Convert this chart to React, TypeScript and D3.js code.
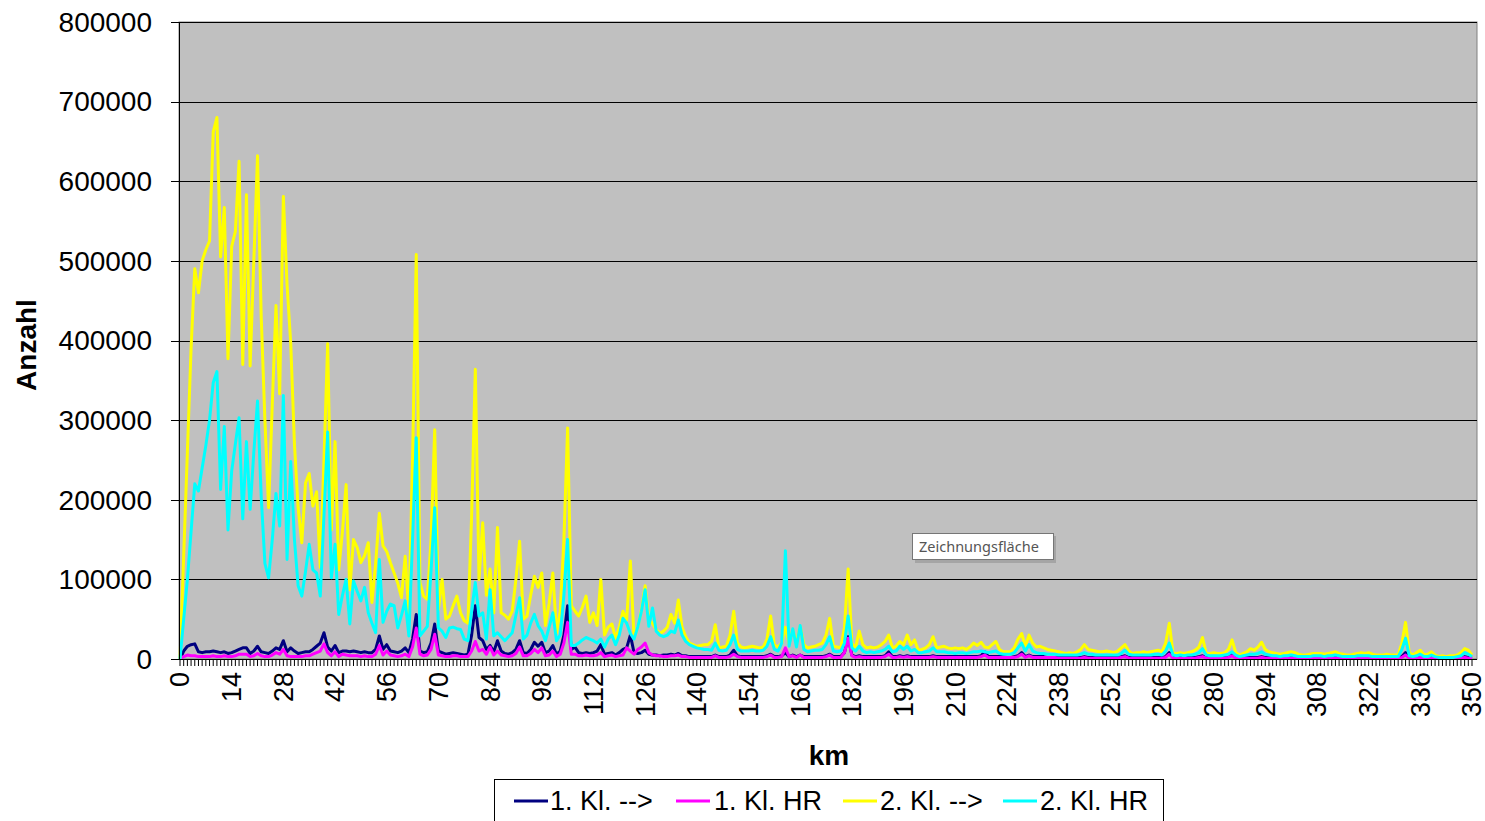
import React from 'react';
import * as d3 from 'd3';

// km categories 0..350 (one point per km)
const km: number[] = d3.range(0, 351);
const kmTicks = [0, 14, 28, 42, 56, 70, 84, 98, 112, 126, 140, 154, 168, 182, 196, 210, 224, 238, 252, 266, 280, 294, 308, 322, 336, 350];
const yTicks = [0, 100000, 200000, 300000, 400000, 500000, 600000, 700000, 800000];

// series values, in thousands
const kl1Hin = [
  0, 10, 16, 18, 19, 9, 8, 9, 9, 10,
  9, 8, 9, 7, 8, 10, 12, 14, 14, 7,
  10, 16, 9, 8, 7, 10, 14, 12, 23, 9,
  14, 10, 7, 8, 9, 9, 12, 16, 20, 33,
  15, 10, 17, 8, 10, 10, 9, 10, 9, 8,
  9, 8, 8, 12, 29, 12, 18, 10, 9, 8,
  10, 14, 8, 25, 56, 10, 8, 9, 20, 44,
  10, 8, 6, 7, 8, 7, 6, 5, 6, 30,
  67, 27, 23, 12, 17, 9, 23, 10, 7, 6,
  8, 12, 23, 8, 7, 12, 21, 16, 21, 8,
  10, 17, 6, 10, 30, 67, 12, 15, 8, 7,
  8, 7, 8, 10, 18, 6, 7, 8, 5, 8,
  12, 14, 30, 8, 7, 8, 11, 6, 5, 5,
  4, 5, 5, 6, 5, 7, 4, 4, 3, 3,
  3, 3, 3, 3, 3, 5, 3, 3, 3, 5,
  11, 4, 3, 3, 3, 3, 3, 3, 3, 4,
  6, 3, 3, 4, 8, 3, 5, 3, 5, 3,
  3, 3, 3, 3, 3, 4, 6, 3, 3, 3,
  8, 28, 5, 3, 4, 3, 3, 3, 3, 3,
  3, 4, 9, 3, 3, 4, 3, 4, 3, 3,
  3, 3, 3, 3, 4, 3, 3, 3, 3, 3,
  3, 3, 3, 3, 3, 3, 3, 4, 9, 3,
  3, 3, 3, 3, 2, 2, 3, 4, 8, 3,
  5, 3, 3, 3, 3, 2, 2, 2, 2, 2,
  2, 2, 2, 2, 2, 3, 2, 2, 2, 2,
  2, 2, 2, 2, 2, 3, 4, 2, 2, 2,
  2, 2, 2, 2, 2, 2, 2, 3, 8, 2,
  2, 2, 2, 2, 2, 2, 3, 4, 2, 2,
  2, 2, 2, 2, 3, 6, 2, 2, 2, 2,
  2, 2, 2, 3, 2, 2, 2, 2, 2, 2,
  2, 2, 2, 2, 2, 2, 2, 2, 2, 2,
  2, 2, 2, 2, 2, 2, 2, 2, 2, 2,
  2, 2, 2, 2, 2, 2, 2, 2, 2, 2,
  2, 3, 8, 2, 2, 2, 3, 2, 2, 2,
  2, 1, 1, 1, 1, 1, 2, 2, 3, 2,
  1,
];

const kl1HR = [
  0, 3, 5, 4, 4, 3, 3, 3, 3, 4,
  3, 3, 4, 3, 3, 4, 6, 6, 6, 3,
  4, 7, 4, 3, 3, 5, 8, 6, 12, 4,
  3, 3, 3, 3, 4, 4, 6, 8, 10, 19,
  8, 4, 9, 3, 6, 5, 4, 4, 4, 3,
  4, 3, 3, 6, 17, 5, 10, 5, 4, 3,
  4, 6, 3, 15, 39, 6, 4, 5, 12, 31,
  5, 4, 3, 3, 4, 4, 3, 3, 3, 10,
  22, 10, 12, 6, 15, 5, 10, 5, 4, 3,
  4, 7, 15, 4, 4, 7, 12, 8, 14, 4,
  5, 10, 3, 6, 20, 46, 6, 6, 4, 4,
  5, 4, 4, 5, 8, 3, 4, 5, 3, 4,
  5, 14, 10, 6, 12, 15, 20, 8, 5, 4,
  4, 3, 3, 4, 4, 5, 3, 3, 2, 2,
  2, 2, 2, 2, 2, 4, 2, 2, 2, 3,
  6, 3, 2, 2, 2, 2, 2, 2, 2, 3,
  5, 2, 2, 3, 14, 3, 4, 2, 5, 2,
  2, 2, 2, 2, 2, 3, 5, 2, 2, 2,
  8, 26, 4, 2, 3, 2, 2, 2, 2, 2,
  2, 3, 6, 2, 2, 3, 2, 3, 2, 2,
  2, 2, 2, 2, 3, 2, 2, 2, 2, 2,
  2, 2, 2, 2, 2, 2, 2, 3, 5, 2,
  2, 2, 2, 2, 2, 2, 2, 3, 6, 2,
  4, 2, 2, 2, 2, 2, 2, 2, 1, 1,
  1, 1, 1, 1, 1, 2, 1, 1, 1, 1,
  1, 1, 1, 1, 1, 2, 3, 1, 1, 1,
  1, 1, 1, 1, 1, 1, 1, 2, 6, 1,
  1, 1, 1, 1, 1, 1, 2, 3, 1, 1,
  1, 1, 1, 1, 2, 4, 1, 1, 1, 1,
  1, 1, 1, 2, 1, 1, 1, 1, 1, 1,
  1, 1, 1, 1, 1, 1, 1, 1, 1, 1,
  1, 1, 1, 1, 1, 1, 1, 1, 1, 1,
  1, 1, 1, 1, 1, 1, 1, 1, 1, 1,
  1, 2, 5, 1, 1, 1, 2, 1, 1, 1,
  1, 1, 1, 1, 1, 1, 1, 1, 2, 1,
  1,
];

const kl2Hin = [
  0, 130, 260, 390, 490, 460, 500, 514, 525, 662,
  680, 505, 567, 377, 518, 537, 625, 370, 583, 368,
  500, 632, 430, 300, 190, 320, 444, 333, 581, 470,
  396, 270, 190, 146, 221, 233, 192, 210, 115, 250,
  396, 162, 273, 112, 160, 219, 87, 150, 140, 121,
  130, 146, 71, 120, 183, 142, 135, 121, 108, 95,
  77, 129, 58, 250, 508, 96, 79, 75, 150, 288,
  62, 100, 50, 54, 67, 79, 58, 48, 45, 180,
  364, 100, 171, 80, 113, 58, 165, 58, 55, 50,
  60, 100, 148, 50, 54, 80, 104, 90, 108, 42,
  70, 108, 33, 60, 150, 290, 67, 60, 54, 65,
  79, 46, 58, 42, 100, 30, 40, 44, 26, 40,
  60, 49, 123, 26, 40, 62, 92, 49, 45, 37,
  32, 35, 40, 56, 45, 74, 40, 28, 20, 18,
  16, 17, 18, 18, 22, 43, 14, 15, 16, 30,
  60, 20, 15, 14, 15, 16, 15, 14, 15, 25,
  54, 18, 15, 20, 40, 20, 37, 20, 41, 18,
  14, 15, 16, 18, 20, 30, 51, 16, 15, 14,
  40, 113, 20, 14, 35, 18, 14, 15, 14, 15,
  18, 22, 30, 14, 16, 22, 18, 30, 18, 24,
  11, 12, 14, 18, 28, 14, 15, 16, 14, 13,
  14, 13, 14, 12, 15, 20, 17, 21, 15, 14,
  18, 22, 12, 9, 9, 9, 14, 25, 32, 16,
  30, 20, 15, 16, 14, 12, 11, 10, 9, 8,
  7, 8, 7, 9, 12, 18, 12, 11, 10, 9,
  9, 10, 9, 8, 10, 14, 18, 10, 7, 8,
  8, 9, 8, 9, 10, 11, 9, 20, 45, 7,
  7, 8, 7, 8, 9, 11, 15, 27, 7, 7,
  8, 7, 7, 8, 12, 24, 8, 5, 7, 9,
  13, 11, 15, 21, 12, 9, 8, 7, 6, 7,
  8, 9, 8, 6, 5, 5, 6, 7, 7, 7,
  6, 7, 8, 9, 7, 6, 5, 5, 6, 7,
  8, 7, 8, 6, 5, 5, 5, 6, 5, 5,
  5, 20, 46, 8, 5, 8, 11, 5, 6, 9,
  5, 3, 4, 3, 4, 4, 5, 8, 13, 11,
  5,
];

const kl2HR = [
  0, 50, 100, 160, 220, 211, 240, 268, 300, 347,
  361, 213, 292, 162, 236, 270, 303, 176, 273, 188,
  260, 324, 204, 120, 102, 150, 208, 167, 331, 125,
  248, 150, 92, 79, 110, 144, 112, 108, 79, 180,
  285, 102, 144, 56, 80, 100, 44, 98, 85, 73,
  90, 58, 45, 33, 125, 46, 60, 69, 67, 39,
  55, 73, 29, 150, 278, 29, 35, 41, 110, 190,
  39, 35, 27, 39, 40, 38, 37, 25, 23, 60,
  96, 54, 58, 25, 87, 29, 33, 28, 23, 28,
  33, 55, 77, 25, 30, 45, 56, 42, 35, 23,
  40, 58, 23, 30, 80, 150, 17, 17, 20, 24,
  27, 25, 23, 20, 25, 15, 25, 30, 18, 30,
  51, 45, 32, 25, 40, 60, 87, 41, 64, 35,
  30, 28, 30, 35, 33, 49, 30, 22, 18, 16,
  14, 13, 12, 12, 11, 20, 11, 10, 11, 18,
  30, 12, 10, 10, 10, 11, 10, 10, 11, 16,
  28, 12, 10, 20, 136, 16, 38, 15, 42, 12,
  9, 10, 11, 11, 12, 18, 28, 10, 9, 10,
  20, 54, 14, 10, 16, 10, 8, 9, 8, 9,
  10, 12, 16, 9, 10, 16, 12, 16, 10, 12,
  8, 8, 9, 10, 14, 9, 9, 9, 8, 8,
  7, 8, 8, 7, 8, 9, 9, 10, 9, 8,
  9, 10, 7, 6, 6, 6, 8, 14, 20, 10,
  18, 10, 8, 7, 7, 6, 6, 6, 5, 5,
  5, 5, 5, 5, 6, 8, 6, 6, 5, 5,
  5, 5, 5, 5, 5, 7, 11, 6, 5, 5,
  5, 5, 5, 5, 6, 6, 5, 10, 20, 5,
  4, 5, 4, 5, 5, 6, 8, 13, 5, 4,
  4, 4, 4, 5, 6, 9, 5, 3, 4, 5,
  6, 6, 7, 9, 6, 5, 4, 4, 3, 4,
  4, 5, 4, 3, 3, 3, 3, 4, 4, 4,
  3, 4, 4, 5, 4, 3, 3, 3, 3, 4,
  4, 4, 4, 3, 3, 3, 3, 3, 3, 3,
  3, 12, 26, 4, 3, 4, 6, 3, 3, 5,
  3, 2, 2, 2, 2, 2, 3, 4, 8, 6,
  3,
];

const seriesNames = ['1. Kl. -->', '1. Kl. HR', '2. Kl. -->', '2. Kl. HR'];
const seriesColors = ['#000080', '#FF00FF', '#FFFF00', '#00FFFF'];
const seriesValues = [kl1Hin, kl1HR, kl2Hin, kl2HR];

const FONT = "'Liberation Sans', Arial, sans-serif";

export default function App() {
  const plot = { left: 179, right: 1477, top: 22, bottom: 659 };

  const x = d3.scaleLinear().domain([0, 350]).range([180, 1472]);
  const y = d3.scaleLinear().domain([0, 800000]).range([plot.bottom, plot.top]);

  const line = d3.line<number>()
    .x((_, i) => x(km[i]))
    .y(d => y(d * 1000));

  // legend layout
  const legendItems = [
    { lx: 514, tx: 550 },
    { lx: 676, tx: 714 },
    { lx: 843, tx: 880 },
    { lx: 1003, tx: 1040 },
  ];

  return (
    <div style={{ position: 'absolute', left: 0, top: 0 }}>
      <svg width={1485} height={821} style={{ display: 'block', background: '#fff' }} fontFamily={FONT}>
        {/* plot area */}
        <rect x={plot.left} y={plot.top} width={plot.right - plot.left} height={plot.bottom - plot.top}
          fill="#C0C0C0" stroke="#808080" strokeWidth={1} />

        {/* gridlines */}
        {yTicks.slice(1).map(t => (
          <line key={t} x1={plot.left} x2={plot.right} y1={Math.round(y(t)) + 0.5} y2={Math.round(y(t)) + 0.5}
            stroke="#000" strokeWidth={1} />
        ))}

        {/* series */}
        {seriesValues.map((vals, i) => (
          <path key={seriesNames[i]} d={line(vals) || ''} fill="none" stroke={seriesColors[i]}
            strokeWidth={3} strokeLinejoin="round" />
        ))}

        {/* y axis */}
        <line x1={plot.left + 0.5} x2={plot.left + 0.5} y1={plot.top} y2={plot.bottom} stroke="#000" />
        {yTicks.map(t => (
          <g key={t}>
            <line x1={171} x2={plot.left} y1={Math.round(y(t)) + 0.5} y2={Math.round(y(t)) + 0.5} stroke="#000" />
            <text x={152} y={y(t)} dy="0.35em" textAnchor="end" fontSize={28} fill="#000">{t}</text>
          </g>
        ))}

        {/* x axis */}
        <line x1={plot.left} x2={plot.right} y1={plot.bottom + 0.5} y2={plot.bottom + 0.5} stroke="#000" />
        {km.map(k => (
          <line key={k} x1={x(k)} x2={x(k)} y1={plot.bottom} y2={plot.bottom + 7} stroke="#000" strokeWidth={1} />
        ))}
        {kmTicks.map(t => (
          <text key={t} transform={`translate(${x(t)},672) rotate(-90)`} dy="0.35em" textAnchor="end"
            fontSize={27} fill="#000">{t}</text>
        ))}

        {/* axis titles */}
        <text transform="translate(26,345) rotate(-90)" dy="0.35em" textAnchor="middle" fontSize={28}
          fontWeight="bold" fill="#000">Anzahl</text>
        <text x={829} y={755} dy="0.35em" textAnchor="middle" fontSize={28} fontWeight="bold" fill="#000">km</text>

        {/* legend */}
        <rect x={494.5} y={779.5} width={669} height={60} fill="#fff" stroke="#000" />
        {legendItems.map((it, i) => (
          <g key={seriesNames[i]}>
            <line x1={it.lx} x2={it.lx + 34} y1={801} y2={801} stroke={seriesColors[i]} strokeWidth={3} />
            <text x={it.tx} y={801} dy="0.35em" fontSize={27} fill="#000">{seriesNames[i]}</text>
          </g>
        ))}

        {/* hover tooltip */}
        <rect x={915} y={536} width={141} height={27} fill="#8a8a8a" opacity={0.5} />
        <rect x={912.5} y={533.5} width={141} height={26} fill="#fff" stroke="#767676" />
        <text x={919} y={546.5} dy="0.35em" fontSize={14.5} fontFamily="'Noto Sans', 'DejaVu Sans', sans-serif"
          fill="#555">Zeichnungsfläche</text>
      </svg>
    </div>
  );
}
